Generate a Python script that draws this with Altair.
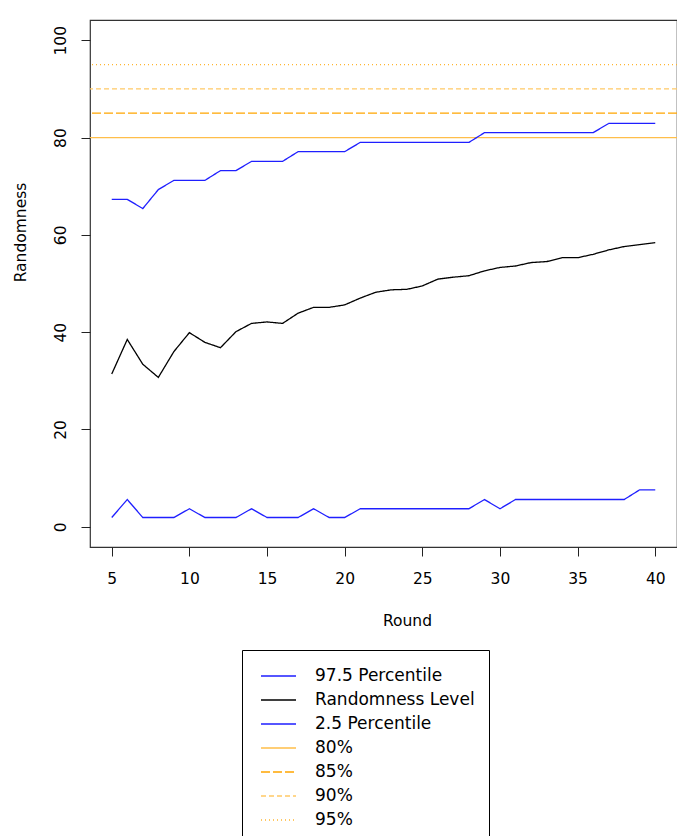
import altair as alt
import pandas as pd

# Rounds of the experiment
rounds = list(range(5, 41))

# Simulated 97.5th percentile of the randomness score per round
upper = [67.3, 67.3, 65.4, 69.3, 71.2, 71.2, 71.2, 73.2, 73.2, 75.1, 75.1, 75.1,
         77.1, 77.1, 77.1, 77.1,
         79.0, 79.0, 79.0, 79.0, 79.0, 79.0, 79.0, 79.0,
         81.0, 81.0, 81.0, 81.0, 81.0, 81.0, 81.0, 81.0,
         82.9, 82.9, 82.9, 82.9]

# Observed randomness level per round
level = [31.4, 38.5, 33.4, 30.7, 36.0, 39.9, 37.9, 36.8, 40.1, 41.8, 42.1, 41.8,
         43.9, 45.1, 45.1, 45.6,
         47.0, 48.2, 48.7, 48.8, 49.5, 50.9, 51.3, 51.6, 52.6, 53.3,
         53.6, 54.3, 54.5, 55.3, 55.3, 56.0, 56.9, 57.6, 58.0, 58.4]

# Simulated 2.5th percentile per round
lower = [1.9, 5.6, 1.9, 1.9, 1.9, 3.7, 1.9, 1.9, 1.9, 3.7, 1.9, 1.9, 1.9, 3.7, 1.9, 1.9,
         3.7, 3.7, 3.7, 3.7, 3.7, 3.7, 3.7, 3.7,
         5.6, 3.7,
         5.6, 5.6, 5.6, 5.6, 5.6, 5.6, 5.6, 5.6,
         7.6, 7.6]

# Reference threshold lines
thresholds = [80, 85, 90, 95]
threshold_names = ["80%", "85%", "90%", "95%"]

curve_names = ["97.5 Percentile", "Randomness Level", "2.5 Percentile"]
series_names = curve_names + threshold_names
series_colors = ["#1f1fff", "#000000", "#1f1fff", "#FFBE4A", "#FFA500", "#FFC966", "#FFB52E"]
series_dashes = [[1, 0], [1, 0], [1, 0], [1, 0], [9, 3], [5, 3], [1, 3]]

x_ticks = [5, 10, 15, 20, 25, 30, 35, 40]
y_ticks = [0, 20, 40, 60, 80, 100]

curves = pd.DataFrame({
    "round": rounds * 3,
    "value": upper + level + lower,
    "series": sum([[name] * len(rounds) for name in curve_names], []),
})
rules = pd.DataFrame({"value": thresholds, "series": threshold_names})

FONT = "DejaVu Sans"

legend = alt.Legend(
    title=None, orient="none", legendX=152, legendY=630,
    strokeColor="black", fillColor="white", padding=14,
    symbolType="stroke", symbolSize=1225, symbolStrokeWidth=1.3, symbolOffset=4,
    labelOffset=18, clipHeight=24, rowPadding=0,
    labelFont=FONT, labelFontSize=17, labelColor="black", labelLimit=300,
)

color = alt.Color(
    "series:N",
    scale=alt.Scale(domain=series_names, range=series_colors),
    legend=legend,
)
dash = alt.StrokeDash(
    "series:N",
    scale=alt.Scale(domain=series_names, range=series_dashes),
    legend=legend,
)

x_scale = alt.Scale(domain=[3.6, 41.4], nice=False, zero=False)
y_scale = alt.Scale(domain=[-4.16, 104.16], nice=False, zero=False)

x_axis = alt.Axis(
    values=x_ticks, title="Round", grid=False, domain=False,
    tickSize=9, tickColor="#222", labelPadding=15, labelFontSize=15.5,
    labelFont=FONT, labelColor="black", titleFont=FONT, titleColor="black",
    titleFontSize=15.5, titleFontWeight="normal", titleX=317, titleY=73,
    titleBaseline="middle", titleAlign="center",
)
y_axis = alt.Axis(
    values=y_ticks, title="Randomness", grid=False, domain=False,
    tickSize=9, tickColor="#222", labelAngle=-90, labelAlign="center",
    labelBaseline="alphabetic", labelPadding=16, labelFontSize=15.5,
    labelFont=FONT, labelColor="black", titleFont=FONT, titleColor="black",
    titleFontSize=15.5, titleFontWeight="normal", titleX=-70, titleY=212,
    titleBaseline="middle", titleAlign="center", titleAngle=-90,
)

lines = alt.Chart(curves).mark_line(strokeWidth=1.3).encode(
    x=alt.X("round:Q", scale=x_scale, axis=x_axis),
    y=alt.Y("value:Q", scale=y_scale, axis=y_axis),
    color=color,
    strokeDash=dash,
    order=alt.Order("round:Q"),
)

hlines = alt.Chart(rules).mark_rule(strokeWidth=1.3).encode(
    y=alt.Y("value:Q", scale=y_scale),
    color=color,
    strokeDash=dash,
)

chart = alt.layer(hlines, lines).properties(
    width=587,
    height=527,
    background="white",
    autosize=alt.AutoSizeParams(type="none"),
    padding={"left": 90, "top": 20, "right": 0, "bottom": 289},
).configure_view(
    stroke="#333", strokeWidth=1.2,
)

chart.save("out.html", embed_options={"renderer": "svg", "actions": False})
